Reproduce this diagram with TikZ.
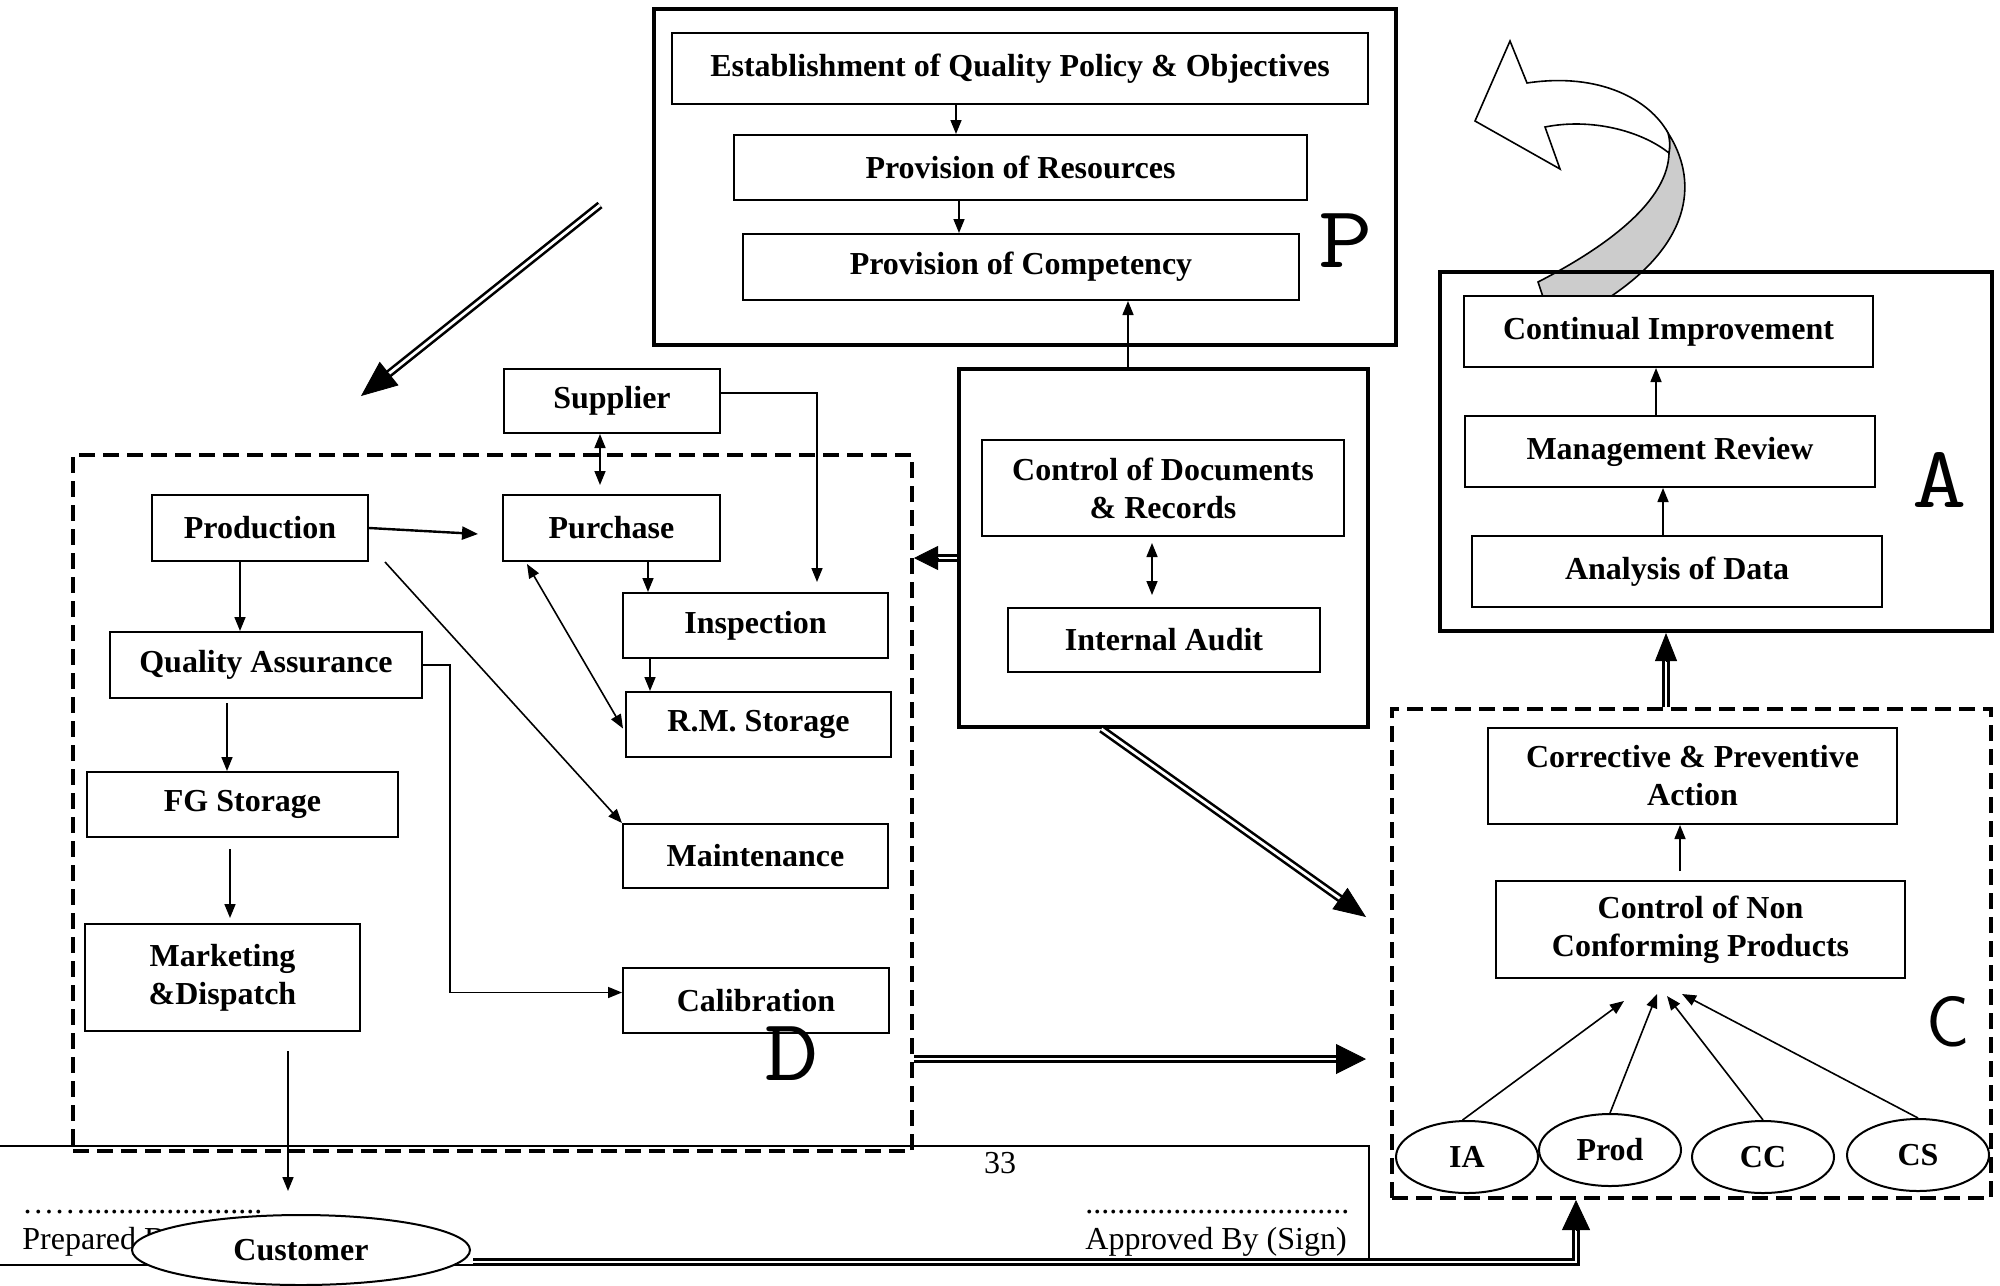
\documentclass[tikz,border=0pt]{standalone}
\usepackage{fontspec}
\setmainfont{Liberation Serif}
\newfontfamily\letterfont[FakeStretch=1.2]{Latin Modern Mono}
\usetikzlibrary{arrows.meta,calc,shapes.geometric}
\newcommand{\bxfont}{\fontsize{16}{19}\selectfont\bfseries}
\newcommand{\ftfont}{\fontsize{16}{19}\selectfont}
\newcommand{\mkbox}[7][box]{%
  \pgfmathsetmacro\bxcx{(#3+#5)/2}%
  \pgfmathsetmacro\bxcy{(#4+#6)/2}%
  \pgfmathsetmacro\bxw{(#5-#3)/2}%
  \pgfmathsetmacro\bxh{(#6-#4)/2}%
  \node[#1, minimum width=\bxw pt, minimum height=\bxh pt] (#2) at (\bxcx,\bxcy) {#7};}
\newcommand{\bigtip}[4]{\draw[line width=0.4pt,-{Triangle[length=#3,width=#4]}] ($(#2)!#3!(#1)$) -- (#2);}
\begin{document}
\begin{tikzpicture}[x=0.5pt,y=-0.5pt,
  box/.style={draw, line width=1pt, fill=white, inner sep=0pt, align=center, font=\bxfont},
  tbox/.style={draw, line width=2pt, inner sep=0pt},
  dashbox/.style={draw, line width=2pt, dash pattern=on 8pt off 4pt, inner sep=0pt},
  ell/.style={ellipse, draw, line width=1pt, fill=white, inner sep=0pt, font=\bxfont},
  arr/.style={line width=0.8pt, -{Triangle[length=7pt,width=5.5pt]}},
  darr/.style={line width=0.8pt, {Triangle[length=7pt,width=5.5pt]}-{Triangle[length=7pt,width=5.5pt]}},
  dbl/.style={double=white, double distance=1.4pt, line width=1.3pt},
  lett/.style={font=\letterfont\fontsize{44}{44}\selectfont, inner sep=0pt},
  foot/.style={font=\ftfont, inner sep=0pt}]
\useasboundingbox (0,0) rectangle (2000,1285);

% ---------- curved ribbon arrow ----------
\filldraw[fill=black!20, line width=0.8pt] (1668,133) .. controls (1697,178) and (1695,240) .. (1610,297)
  -- (1543,297) -- (1538,282) .. controls (1610,245) and (1668,200) .. (1669,153)
  .. controls (1670,145) and (1670,140) .. (1668,133) -- cycle;
\filldraw[fill=white, line width=0.8pt] (1510,41) -- (1527,83) .. controls (1600,72) and (1650,100) .. (1668,133)
  .. controls (1670,140) and (1670,145) .. (1669,153) .. controls (1640,130) and (1590,118) .. (1545,127)
  -- (1560,169) -- (1475,121) -- cycle;

% ---------- footer ----------
\draw[line width=0.7pt] (0,1146) -- (1369,1146) -- (1369,1265) -- (0,1265);
\node[foot] (pg) at (1000,1163) {33};
\node[foot, anchor=base west] (dotl) at (22,1213) {……......................};
\node[foot, anchor=base west] (prep) at (22,1249) {Prepared B};
\node[foot, anchor=base west] (dotr) at (1085,1213) {.................................};
\node[foot, anchor=base west] (appr) at (1085,1249) {Approved By (Sign)};

% ---------- P ----------
\mkbox[tbox]{pbox}{654}{9}{1396}{345}{}
\mkbox{est}{672}{33}{1368}{104}{Establishment of Quality Policy \& Objectives}
\mkbox{res}{734}{135}{1307}{200}{Provision of Resources}
\mkbox{comp}{743}{234}{1299}{300}{Provision of Competency}
\node[lett] (lp) at (1346,241) {P};

% ---------- control ----------
\mkbox[tbox]{ctrl}{959}{369}{1368}{727}{}
\mkbox{cdr}{982}{440}{1344}{536}{Control of Documents\\\& Records}
\mkbox{iaud}{1008}{608}{1320}{672}{Internal Audit}

% ---------- A ----------
\mkbox[tbox]{abox}{1440}{272}{1992}{631}{}
\mkbox{ci}{1464}{296}{1873}{367}{Continual Improvement}
\mkbox{mr}{1465}{416}{1875}{487}{Management Review}
\mkbox{ad}{1472}{536}{1882}{607}{Analysis of Data}
\node[lett] (la) at (1940,480) {A};

% ---------- C ----------
\mkbox[dashbox]{cbox}{1392}{709}{1991}{1198}{}
\mkbox{cpa}{1488}{728}{1897}{824}{Corrective \& Preventive\\Action}
\mkbox{cnc}{1496}{881}{1905}{978}{Control of Non\\Conforming Products}
\node[ell, minimum width=71pt, minimum height=36pt] (ia) at (1467,1157) {IA};
\node[ell, minimum width=71pt, minimum height=36pt] (prod) at (1610,1150) {Prod};
\node[ell, minimum width=71pt, minimum height=36pt] (cc) at (1763,1157) {CC};
\node[ell, minimum width=71pt, minimum height=36pt] (cs) at (1918,1155) {CS};
\node[font=\sffamily\fontsize{36}{36}\selectfont, inner sep=0pt] (lc) at (1948,1022) {C};

% ---------- D ----------
\mkbox[dashbox]{dreg}{73}{455}{912}{1151}{}
\mkbox{sup}{504}{369}{720}{433}{Supplier}
\mkbox{pur}{503}{495}{720}{561}{Purchase}
\mkbox{prd}{152}{495}{368}{561}{Production}
\mkbox{insp}{623}{593}{888}{658}{Inspection}
\mkbox{rms}{626}{692}{891}{757}{R.M. Storage}
\mkbox{qa}{110}{632}{422}{698}{Quality Assurance}
\mkbox{fg}{87}{772}{398}{837}{FG Storage}
\mkbox{mnt}{623}{824}{888}{888}{Maintenance}
\mkbox{mkt}{85}{924}{360}{1031}{Marketing\\\&Dispatch}
\mkbox{cal}{623}{968}{889}{1033}{Calibration}
\node[lett] (ld) at (792,1054) {D};

\node[ell, minimum width=169pt, minimum height=35pt] (cust) at (301,1250) {Customer};

% ---------- helper x coordinates ----------
\coordinate (x956) at (956,0);
\coordinate (x959) at (959,0);
\coordinate (x1128) at (1128,0);
\coordinate (x1152) at (1152,0);
\coordinate (x1656) at (1656,0);
\coordinate (x1663) at (1663,0);
\coordinate (x1666) at (1666,0);
\coordinate (x1680) at (1680,0);
\coordinate (x1576) at (1576,0);
\coordinate (x600) at (600,0);
\coordinate (x648) at (648,0);
\coordinate (x650) at (650,0);
\coordinate (x240) at (240,0);
\coordinate (x227) at (227,0);
\coordinate (x230) at (230,0);
\coordinate (x288) at (288,0);
\coordinate (x817) at (817,0);
\coordinate (y1059) at (0,1059);

% ---------- thin connectors ----------
\draw[arr] (x956 |- est.south) -- (x956 |- res.north);
\draw[arr] (x959 |- res.south) -- (x959 |- comp.north);
\draw[arr] (x1128 |- ctrl.north) -- (x1128 |- comp.south);
\draw[darr, shorten <=3pt, shorten >=6pt] (x1152 |- cdr.south) -- (x1152 |- iaud.north);
\draw[arr] (x1663 |- ad.north) -- (x1663 |- mr.south);
\draw[arr] (x1656 |- mr.north) -- (x1656 |- ci.south);
\draw[arr, shorten <=4.5pt] (x1680 |- cnc.north) -- (x1680 |- cpa.south);
\draw[arr] (ia.97) -- ($(cnc.south)+(-76.5,22)$);
\draw[arr] (prod.north) -- ($(cnc.south)+(-43.5,15)$);
\draw[arr] (cc.north) -- ($(cnc.south)+(-33.5,17)$);
\draw[arr] (cs.north) -- ($(cnc.south)+(-18.5,15)$);

\draw[darr, shorten >=4.5pt] (x600 |- sup.south) -- (x600 |- pur.north);
\draw[arr, shorten >=5pt] ($(sup.east)+(0,-8)$) -| (x817 |- insp.north);
\draw[line width=1.2pt, -{Triangle[length=8pt,width=6.5pt]}] (prd.east) -- ($(pur.west)+(-24,6)$);
\draw[arr] (x240 |- prd.south) -- (x240 |- qa.north);
\draw[arr] ($(prd.south east)+(16,0)$) -- (mnt.north west);
\draw[arr] (x648 |- pur.south) -- (x648 |- insp.north);
\draw[darr] ($(pur.south west)+(25,2)$) -- ($(rms.west)+(-2,4)$);
\draw[arr] (x650 |- insp.south) -- (x650 |- rms.north);
\draw[arr, shorten <=2pt] (x227 |- qa.south) -- (x227 |- fg.north);
\draw[arr] (qa.east) -- ++(27,0) |- ($(cal.west)+(0,-8)$);
\draw[arr, shorten <=5.5pt, shorten >=2.5pt] (x230 |- fg.south) -- (x230 |- mkt.north);
\draw[arr, shorten <=9.5pt, shorten >=11.5pt] (x288 |- mkt.south) -- (x288 |- cust.north);

% ---------- big double arrows ----------
\coordinate (pd1) at (600,205);
\coordinate (pd2) at (361,396);
\draw[dbl, shorten >=16pt] (pd1) -- (pd2);
\bigtip{pd1}{pd2}{18pt}{15pt}

\coordinate (cw) at ($(ctrl.west)+(0,10)$);
\coordinate (cwe) at (cw -| dreg.east);
\draw[dbl, shorten >=10pt] (cw) -- (cwe);
\bigtip{cw}{cwe}{12pt}{12pt}

\coordinate (cs1) at ($(ctrl.south)+(-62,0)$);
\coordinate (cs2) at (1366,917);
\draw[dbl, shorten >=14pt] (cs1) -- (cs2);
\bigtip{cs1}{cs2}{16pt}{13pt}

\coordinate (dc1) at (dreg.east |- y1059);
\coordinate (dc2) at (1366,1059);
\draw[dbl, shorten >=13pt] (dc1) -- (dc2);
\bigtip{dc1}{dc2}{15pt}{15pt}

\coordinate (ca1) at (x1666 |- cbox.north);
\coordinate (ca2) at (x1666 |- abox.south);
\draw[dbl, shorten >=12pt] (ca1) -- (ca2);
\bigtip{ca1}{ca2}{14pt}{11pt}

\coordinate (custout) at ($(cust.east)+(2,12)$);
\coordinate (cin) at (x1576 |- cbox.south);
\coordinate (cinb) at ($(cin)+(0,30)$);
\draw[dbl, shorten >=13pt] (custout) -| (cin);
\bigtip{cinb}{cin}{15pt}{14pt}
\end{tikzpicture}
\end{document}
